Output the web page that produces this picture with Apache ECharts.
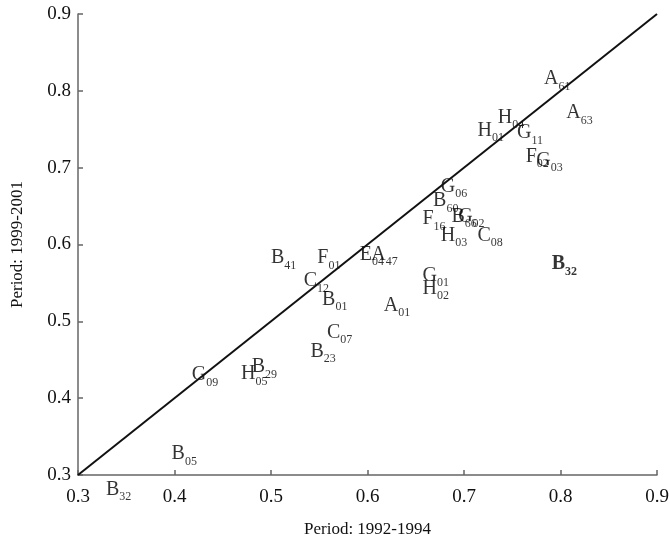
<!DOCTYPE html>
<html>
<head>
<meta charset="utf-8">
<script src="https://cdn.jsdelivr.net/npm/echarts@6/dist/echarts.min.js"></script>
<style>
html,body{margin:0;padding:0;background:#fff;}
#chart{width:670px;height:541px;}
</style>
</head>
<body>
<div id="chart"></div>
<script>
// Data
const letters = ['A','A','H','H','G','F','G','G','B','F','B','G','H','C','E','A','B','F','C','B','A','G','H','C','B','G','H','B','B','B','B'];
const subs    = ['61','63','04','01','11','02','03','06','60','16','66','02','03','08','04','47','41','01','12','01','01','01','02','07','23','09','05','29','05','32','32'];
const period1992 = [0.784,0.807,0.736,0.715,0.756,0.765,0.776,0.677,0.669,0.658,0.688,0.695,0.677,0.715,0.593,0.605,0.501,0.549,0.535,0.554,0.618,0.658,0.658,0.559,0.542,0.419,0.470,0.481,0.398,0.330,0.792];
const period1999 = [0.814,0.770,0.764,0.747,0.744,0.713,0.708,0.674,0.655,0.632,0.635,0.635,0.610,0.610,0.586,0.586,0.581,0.581,0.551,0.527,0.519,0.558,0.541,0.484,0.459,0.429,0.430,0.439,0.326,0.280,0.573];
const boldIndex = 30;
const diagonal = [[0.3,0.3],[0.9,0.9]];

const serif = "Liberation Serif, Times New Roman, serif";
const pts = period1992.map((x,i)=>({value:[x, period1999[i]], letter:letters[i], sub:subs[i], bold: i===boldIndex}));

const chart = echarts.init(document.getElementById('chart'));
chart.setOption({
  animation:false,
  backgroundColor:'#fff',
  grid:{left:78,right:13,top:14,bottom:66,containLabel:false,outerBoundsMode:'none'},
  xAxis:{
    type:'value',min:0.3,max:0.9,interval:0.1,
    name:'Period: 1992-1994',nameLocation:'middle',nameGap:46,
    nameTextStyle:{fontFamily:serif,fontSize:17,color:'#111'},
    axisLine:{lineStyle:{color:'#666',width:1.5}},
    axisTick:{inside:true,length:5,lineStyle:{color:'#666',width:1.5}},
    axisLabel:{margin:13,fontFamily:serif,fontSize:19,color:'#111',formatter:v=>v.toFixed(1)},
    splitLine:{show:false}
  },
  yAxis:{
    type:'value',min:0.3,max:0.9,interval:0.1,
    name:'Period: 1999-2001',nameLocation:'middle',nameGap:52,
    nameTextStyle:{fontFamily:serif,fontSize:17,color:'#111'},
    axisLine:{show:true,lineStyle:{color:'#666',width:1.5}},
    axisTick:{show:true,inside:true,length:5,lineStyle:{color:'#666',width:1.5}},
    axisLabel:{margin:7,fontFamily:serif,fontSize:19,color:'#111',formatter:v=>v.toFixed(1)},
    splitLine:{show:false}
  },
  series:[
    {
      type:'line',data:diagonal,symbol:'none',silent:true,
      lineStyle:{color:'#111',width:2},z:3
    },
    {
      type:'scatter',clip:false,symbolSize:2,
      itemStyle:{color:'rgba(0,0,0,0)'},
      data:pts,z:2,
      labelLayout:{hideOverlap:false},
      label:{
        show:true,position:[0,0],align:'left',verticalAlign:'middle',
        formatter:p=>p.data.bold ? '{ab|'+p.data.letter+'}{sb|'+p.data.sub+'}' : '{a|'+p.data.letter+'}{s|'+p.data.sub+'}',
        rich:{
          a:{fontFamily:serif,fontSize:20,color:'#000'},
          s:{fontFamily:serif,fontSize:12,color:'#000',padding:[15,0,0,0]},
          ab:{fontFamily:serif,fontSize:20,fontWeight:'bold',color:'#000'},
          sb:{fontFamily:serif,fontSize:12,fontWeight:'bold',color:'#000',padding:[15,0,0,0]}
        }
      }
    }
  ]
});
</script>
</body>
</html>
